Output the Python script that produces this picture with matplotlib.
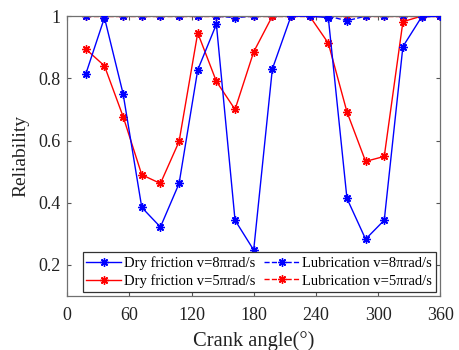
import matplotlib
matplotlib.use("Agg")
import matplotlib.pyplot as plt

plt.rcParams["font.family"] = ["Liberation Serif", "DejaVu Serif"]

# crank angle samples (deg)
angle = [18, 36, 54, 72, 90, 108, 126, 144, 162, 180,
         198, 216, 234, 252, 270, 288, 306, 324, 342, 360]

dry_8pi = [0.814, 0.995, 0.750, 0.385, 0.322, 0.462, 0.827, 0.974, 0.344, 0.248,
           0.830, 1.0, 1.0, 0.995, 0.414, 0.283, 0.344, 0.902, 0.997, 1.0]
dry_5pi = [0.894, 0.840, 0.677, 0.490, 0.462, 0.597, 0.946, 0.790, 0.700, 0.885,
           1.0, 1.0, 1.0, 0.913, 0.692, 0.533, 0.549, 0.982, 1.0, 1.0]
lub_8pi = [1.0, 1.0, 1.0, 1.0, 1.0, 1.0, 1.0, 1.0, 0.995, 1.0,
           1.0, 1.0, 1.0, 1.0, 0.985, 1.0, 1.0, 1.0, 1.0, 1.0]
lub_5pi = [1.0] * 20

xticks = [0, 60, 120, 180, 240, 300, 360]
yticks = [0.2, 0.4, 0.6, 0.8, 1.0]
ytick_labels = ["0.2", "0.4", "0.6", "0.8", "1"]

fig = plt.figure(figsize=(4.6, 3.5), dpi=100)
ax = fig.add_axes([0.146, 0.154, 0.811, 0.80])

star = (8, 2, 0)  # asterisk: "+" and "x" overlaid
style = dict(lw=1.0, marker=star, ms=6, mew=1.0)
ax.plot(angle, dry_8pi, "-", color="#0000ff", label="Dry friction v=8πrad/s", zorder=3, **style)
ax.plot(angle, dry_5pi, "-", color="#ff0000", label="Dry friction v=5πrad/s", zorder=2.5, **style)
ax.plot(angle, lub_8pi, "--", color="#0000ff", label="Lubrication v=8πrad/s", zorder=2.2, **style)
ax.plot(angle, lub_5pi, "--", color="#ff0000", label="Lubrication v=5πrad/s", zorder=2, **style)

ax.set_xlim(0, 360)
ax.set_ylim(0.1, 1.0)
ax.set_xticks(xticks)
ax.set_yticks(yticks)
ax.set_yticklabels(ytick_labels)
ax.tick_params(direction="in", top=True, right=True, labelsize=13,
               length=3, color="#555555", labelcolor="#222222")
ax.tick_params(axis="x", pad=8)
ax.tick_params(axis="y", pad=5)
for s in ax.spines.values():
    s.set_color("#707070")
    s.set_linewidth(0.9)

ax.set_xlabel("Crank angle(°)", fontsize=14.8, color="#222222", labelpad=5)
ax.set_ylabel("Reliability", fontsize=14, color="#222222", labelpad=6)

leg = ax.legend(ncol=2, loc="lower right", fontsize=10.5, fancybox=False,
                edgecolor="#333333", framealpha=1, handlelength=2.4,
                handletextpad=0.2, columnspacing=0.6, borderpad=0.25,
                labelspacing=0.3, borderaxespad=0.3)
leg.set_zorder(5)
leg.get_frame().set_linewidth(0.9)

fig.savefig("out.png", dpi=100)
